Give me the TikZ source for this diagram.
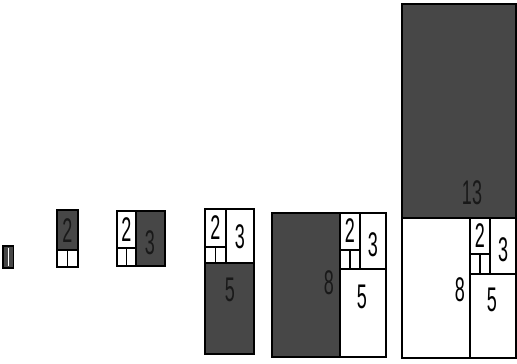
\documentclass[tikz,border=0pt]{standalone}
\usepackage{fontspec}
\setmainfont{Liberation Sans}
\usetikzlibrary{positioning}

\tikzset{
  dark/.style={draw=black, line width=1.8pt, fill=black!72},
  light/.style={draw=black, line width=1.8pt, fill=white},
  digit/.style={font=\fontsize{18}{18}\selectfont, inner sep=0pt},
  faint/.style={digit, text=black!90}
}
\newcommand{\tallnum}[1]{\scalebox{1}[1.9]{#1}}

\begin{document}
\begin{tikzpicture}[x=1pt,y=-1pt]

\useasboundingbox (0,0) rectangle (517,364);

% 1
\draw[dark] (3,246) rectangle (13.5,268);
\draw[white, line width=0.6pt] (8.25,248) --(8.25,266);

% 1 1 2
\draw[dark] (57,210) rectangle (78,250);
\draw[light] (57,250) rectangle (67.5,267);
\draw[light] (67.5,250) rectangle (78,267);
\node[faint] (fbTwo) at (67.5,231) {\tallnum{2}};

% 1 1 2 3
\draw[light] (117,211) rectangle (136,248);
\draw[light] (117,248) rectangle (126.5,266);
\draw[light] (126.5,248) rectangle (136,266);
\draw[dark] (136,211) rectangle (165,266);
\node[digit] (fcTwo) at (126.5,230) {\tallnum{2}};
\node[faint] (fcThree) at (150,243) {\tallnum{3}};

% 1 1 2 3 5
\draw[light] (205,209) rectangle (226,247);
\draw[light] (205,247) rectangle (215.5,263);
\draw[light] (215.5,247) rectangle (226,263);
\draw[light] (226,209) rectangle (254,263);
\draw[dark] (205,263) rectangle (254,354);
\node[digit] (fdTwo) at (215.5,228) {\tallnum{2}};
\node[digit] (fdThree) at (240,237) {\tallnum{3}};
\node[faint] (fdFive) at (230,290) {\tallnum{5}};

% 1 1 2 3 5 8
\draw[dark] (272,213) rectangle (340,357);
\draw[light] (340,213) rectangle (360,250);
\draw[light] (340,250) rectangle (350,269);
\draw[light] (350,250) rectangle (360,269);
\draw[light] (360,213) rectangle (386,269);
\draw[light] (340,269) rectangle (386,357);
\node[faint] (feEight) at (329,283) {\tallnum{8}};
\node[digit] (feTwo) at (350,231) {\tallnum{2}};
\node[digit] (feThree) at (373,245) {\tallnum{3}};
\node[digit] (feFive) at (362,297) {\tallnum{5}};

% 1 1 2 3 5 8 13
\draw[dark] (402,4) rectangle (516,218);
\draw[light] (402,218) rectangle (470,358);
\draw[light] (470,218) rectangle (490,254);
\draw[light] (470,254) rectangle (480,274);
\draw[light] (480,254) rectangle (490,274);
\draw[light] (490,218) rectangle (516,274);
\draw[light] (470,274) rectangle (516,358);
\node[faint] (ffThirteen) at (472,193) {\tallnum{13}};
\node[digit] (ffEight) at (460,290) {\tallnum{8}};
\node[digit] (ffTwo) at (480,236) {\tallnum{2}};
\node[digit] (ffThree) at (503,250) {\tallnum{3}};
\node[digit] (ffFive) at (492,300) {\tallnum{5}};

\end{tikzpicture}
\end{document}
